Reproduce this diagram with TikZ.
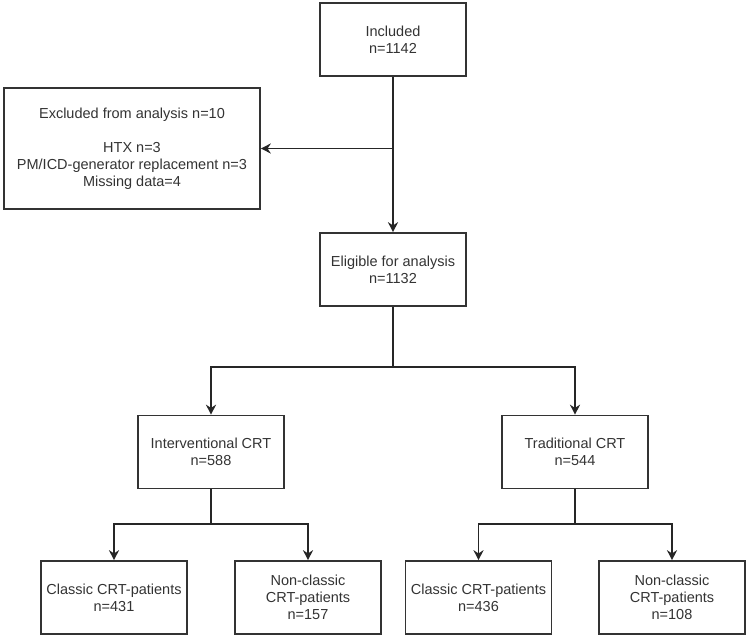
\documentclass[tikz,border=0pt]{standalone}
\usepackage{fontspec}
\setmainfont{Liberation Sans}
\usetikzlibrary{arrows.meta}
\begin{document}
\begin{tikzpicture}[x=1pt, y=-1pt, >={Stealth[length=10pt,width=10pt]},
    box/.style={draw=black!80, line width=1.6pt, align=center, minimum width=146pt,
        minimum height=73pt, inner sep=2pt, font=\fontsize{14.5}{17}\selectfont, text=black!80},
    link/.style={draw=black!85, line width=1.6pt}]
        \useasboundingbox (0, 0) rectangle (750, 637);

        % Top
        \node[box] (inc) at (393, 39.5) {Included\\n=1142};
        \node[box, minimum width=256pt, minimum height=121pt] (excl) at (132, 148.5)
            {Excluded from analysis n=10\\[17pt]HTX n=3\\PM/ICD-generator replacement n=3\\Missing data=4};
        \node[box] (elig) at (393, 269.5) {Eligible for analysis\\n=1132};

        % Groups
        \node[box] (inter) at (211, 452) {Interventional CRT\\n=588};
        \node[box] (trad) at (575, 452) {Traditional CRT\\n=544};

        % Subgroups
        \node[box] (cls1) at (114, 597.5) {Classic CRT-patients\\n=431};
        \node[box] (ncl1) at (308, 597.5) {Non-classic\\CRT-patients\\n=157};
        \node[box] (cls2) at (478.5, 597.5) {Classic CRT-patients\\n=436};
        \node[box] (ncl2) at (672, 597.5) {Non-classic\\CRT-patients\\n=108};

        % Split points
        \coordinate (s0) at (393, 367);
        \coordinate (s1) at (211, 524);
        \coordinate (s2) at (575, 524);

        % Arrows
        \draw[link, ->] (inc) -- (elig);
        \draw[link, ->] (inc.south |- excl.east) -- (excl.east);
        \draw[link] (elig) -- (s0);
        \draw[link, ->] (s0) -| (inter);
        \draw[link, ->] (s0) -| (trad);
        \draw[link] (inter) -- (s1);
        \draw[link, ->] (s1) -| (cls1);
        \draw[link, ->] (s1) -| (ncl1);
        \draw[link] (trad) -- (s2);
        \draw[link, ->] (s2) -| (cls2);
        \draw[link, ->] (s2) -| (ncl2);
    \end{tikzpicture}
\end{document}
